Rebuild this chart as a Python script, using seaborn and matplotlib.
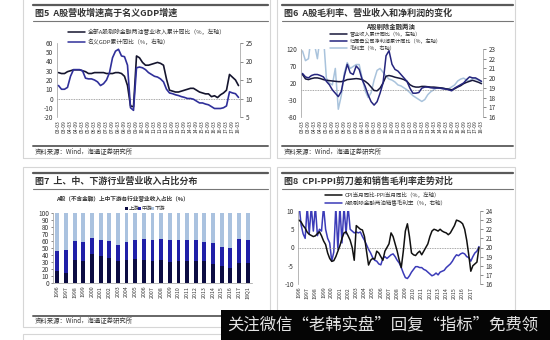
import matplotlib
matplotlib.use("Agg")
import matplotlib.pyplot as plt
import seaborn as sns
import pandas as pd
import numpy as np
from matplotlib.lines import Line2D
from matplotlib.patches import Rectangle

# ---------------- data ----------------
# 图5: quarterly 2003Q1 - 2018Q1
p1_years = list(range(2003, 2019))
p1_months = ["03", "06", "09", "12"]
p1_revenue = [28, 27, 27, 29, 30, 31, 31, 31, 30, 29, 27, 27, 28, 28, 28, 28, 27, 27, 27, 28,
              28, 27, 24, 14, -8, -9, 46, 44, 39, 36, 36, 37, 38, 39, 38, 36, 21, 9, 8, 7,
              7, 8, 9, 10, 11, 11, 9, 7, 6, 5, 5, 2, 3, 1, 4, 6, 9, 26, 23, 20, 14]
p1_gdp = [13.5, 12.5, 12.5, 13.0, 16.0, 17.8, 17.8, 17.8, 17.5, 15.5, 15.3, 15.3, 15.0, 14.5, 13.5,
          14.0, 15.0, 17.0, 21.0, 22.8, 23.3, 21.5, 21.3, 19.0, 7.5, 6.8, 18.3, 18.5, 18.3, 17.8,
          17.0, 16.5, 16.0, 15.8, 15.3, 14.5, 12.5, 11.5, 11.3, 11.0, 10.8, 10.5, 10.3, 10.0, 10.0,
          9.8, 9.3, 8.8, 8.8, 8.5, 8.3, 7.8, 7.3, 7.3, 7.3, 7.5, 8.0, 11.8, 11.5, 11.3, 10.3]

# 图6: quarterly 2003Q1 - 2018Q1
p2_revenue = [45, 32, 30, 33, 35, 35, 33, 30, 28, 27, 26, 25, 24, 24, 26, 30, 31, 32, 33, 32,
              30, 25, 18, 8, -2, -3, 5, 20, 40, 42, 40, 37, 35, 33, 30, 25, 15, 10, 8, 8,
              10, 10, 9, 8, 8, 7, 6, 5, 3, 2, 0, 3, 8, 12, 18, 22, 25, 28, 25, 22, 18]
p2_profit = [48, 38, 35, 42, 45, 45, 42, 38, 25, 15, 0, -10, -20, -5, 40, 75, 50, 45, 70, 60,
             30, 10, -15, -35, -45, -35, -10, 20, 100, 115, 75, 60, 55, 45, 35, 25, 5, -10, -10, -8,
             5, 8, 8, 6, 5, 5, 5, 3, 2, 0, -3, 5, 10, 15, 20, 30, 38, 35, 35, 30, 25]
p2_margin = [22.8, 21.8, 22.0, 24.5, 23.5, 22.0, 24.5, 24.5, 20.0, 19.5, 19.3, 21.0, 16.8, 18.2, 20.5,
             21.6, 21.0, 21.2, 21.4, 21.4, 20.0, 18.7, 18.0, 18.5, 19.8, 20.8, 21.0, 20.6, 20.2, 19.9,
             19.8, 19.6, 19.3, 19.2, 19.0, 18.8, 18.5, 18.2, 18.0, 17.8, 17.6, 17.8, 18.3, 18.6, 18.8,
             19.0, 19.0, 19.0, 18.9, 18.9, 19.1, 19.3, 19.7, 19.9, 20.0, 19.8, 19.7, 20.0, 19.9, 19.8, 19.6]

# 图7: stacked shares
p3_years = ["1996", "1997", "1998", "1999", "2000", "2001", "2002", "2003", "2004", "2005", "2006",
            "2007", "2008", "2009", "2010", "2011", "2012", "2013", "2014", "2015", "2016", "2017", "18Q1"]
p3_up = [17, 15, 33, 31, 41, 38, 36, 31, 33, 35, 33, 32, 33, 30, 31, 32, 32, 31, 27, 24, 22, 28, 29]
p3_mid = [29, 32, 27, 28, 23, 23, 24, 23, 25, 26, 30, 29, 30, 31, 31, 30, 29, 28, 30, 27, 28, 35, 33]
p3_down = [54, 53, 40, 41, 36, 39, 40, 46, 42, 39, 37, 39, 37, 39, 38, 38, 39, 41, 43, 49, 50, 37, 38]

# 图8: quarterly 1996Q1 - 2018Q1
p4_year_labels = [str(y) for y in range(1996, 2018)]
p4_cpi_ppi = [7.5, 7.0, 6.0, 5.3, 4.2, 3.6, 3.3, 3.0, 3.2, 3.8, 4.3, 3.2, 1.8, 0.8, -1.5, -3.0,
              -3.8, -3.6, -2.5, -1.0, 0.5, 2.5, 4.0, 4.3, 3.2, 2.0, 0.0, -3.5, 6.0, 5.5, 5.0, 4.8,
              3.0, -1.0, -4.8, -3.5, -3.0, -3.2, -1.0, -1.5, -2.5, -3.5, -1.0, 0.0, 1.0, 4.0, 3.0, 1.0,
              -1.0, -3.5, -5.5, -1.0, 4.5, 6.5, 3.0, -1.5, -2.0, -2.2, -1.5, -1.0, -2.0, -1.0, 0.0, 1.0,
              3.0, 4.5, 5.0, 4.8, 4.5, 5.0, 4.5, 4.2, 4.0, 3.5, 4.0, 5.0, 6.0, 7.5, 7.3, 7.0,
              6.5, 5.0, 2.0, -2.0, -6.5, -5.0, -4.5, -4.0, 0.0]
p4_margin = [24.8, 22.5, 21.5, 21.0, 24.5, 21.5, 24.5, 21.8, 24.5, 21.3, 22.0, 21.8, 24.5, 22.0, 21.0, 20.5,
             18.5, 19.5, 24.5, 19.8, 24.5, 20.5, 24.5, 21.5, 24.5, 22.0, 21.8, 21.6, 21.7, 21.6, 21.7, 21.2,
             20.8, 20.3, 19.8, 19.4, 18.9, 18.6, 18.5, 18.2, 18.1, 18.8, 19.0, 18.8, 19.0, 19.2, 19.3, 19.0,
             18.6, 18.3, 17.8, 17.2, 16.7, 16.6, 16.9, 17.3, 17.6, 17.9, 17.9, 17.8, 17.8, 17.6, 17.5, 17.3,
             17.1, 16.9, 17.0, 17.2, 17.0, 17.3, 17.4, 17.5, 17.8, 18.0, 18.2, 18.5, 18.9, 19.2, 19.1, 19.3,
             19.4, 19.3, 19.0, 18.9, 18.5, 19.0, 19.4, 19.6, 20.1]

# ---------------- figure ----------------
W, H = 550, 340
sns.set_theme(style="white")
plt.rcParams["font.family"] = ["Noto Sans CJK SC", "DejaVu Sans"]
plt.rcParams["axes.unicode_minus"] = False

fig = plt.figure(figsize=(5.5, 3.4), dpi=100)
fig.patch.set_facecolor("white")

TXT = "#333333"
GRID = "#8a8a8a"


def R(x0, y0, x1, y1):
    return [x0 / W, 1 - y1 / H, (x1 - x0) / W, (y1 - y0) / H]


def hline(x0, x1, y, color="#666666", lw=1.0, z=3):
    fig.add_artist(Line2D([x0 / W, x1 / W], [1 - y / H, 1 - y / H], transform=fig.transFigure,
                          color=color, lw=lw, zorder=z))


def text(x, y, s, size, **kw):
    kw.setdefault("color", TXT)
    kw.setdefault("va", "center")
    fig.text(x / W, 1 - y / H, s, fontsize=size, **kw)


def box(x0, y0, x1, y1):
    fig.add_artist(Rectangle((x0 / W, 1 - y1 / H), (x1 - x0) / W, (y1 - y0) / H,
                             transform=fig.transFigure, fill=False, edgecolor="#d6d6d6", lw=0.8, zorder=1))


def legend_item(x, y, color, label, size=4.0, lw=1.1, seg=17):
    fig.add_artist(Line2D([x / W, (x + seg) / W], [1 - y / H, 1 - y / H], transform=fig.transFigure,
                          color=color, lw=lw))
    text(x + seg + 3, y, label, size)


def panel_frame(x0, x1, ytop, title, ybottom_line, source_y):
    hline(x0 + 10, x1 - 2, ytop, color="#5a5a5a", lw=1.6)
    text(x0 + 12, ytop + 8, title, 6.5, fontweight="bold")
    hline(x0 + 10, x1 - 2, ytop + 16, color="#777777", lw=0.8)
    if ybottom_line is not None:
        hline(x0 + 10, x1 - 2, ybottom_line, color="#666666", lw=1.4)
        text(x0 + 12, source_y, "资料来源：Wind，海通证券研究所", 4.6)


def style_twin(ax, ax2):
    for a in (ax, ax2):
        for s in a.spines.values():
            s.set_visible(False)
        a.set_facecolor("none")
    ax.spines["left"].set_visible(True)
    ax.spines["left"].set_color("#9a9a9a")
    ax.spines["left"].set_linewidth(0.5)
    ax2.spines["right"].set_visible(True)
    ax2.spines["right"].set_color("#9a9a9a")
    ax2.spines["right"].set_linewidth(0.5)
    ax.tick_params(axis="y", labelsize=4.6, colors=TXT, length=0, pad=3)
    ax2.tick_params(axis="y", labelsize=4.6, colors=TXT, length=2, width=0.4, pad=2, direction="out")
    ax.tick_params(axis="x", labelsize=3.6, colors=TXT, length=0, pad=2, rotation=90)
    ax.set_xlabel("")
    ax.set_ylabel("")
    ax2.set_xlabel("")
    ax2.set_ylabel("")


# panel boxes
box(23, -5, 270, 158)
box(277, -5, 515, 158)
box(23, 167, 270, 327)
box(277, 167, 515, 345)
box(23, 334, 270, 360)

# ================= 图5 =================
panel_frame(23, 270, 5, "图5  A股营收增速高于名义GDP增速", 146, 152)
p1_periods = [f"{y}-{m}" for y in p1_years for m in p1_months][:len(p1_revenue)]
p1_labels = [f"{p[2:4]}-{p[5:7]}" for p in p1_periods]
df1 = pd.DataFrame({"t": np.arange(len(p1_revenue)), "revenue": p1_revenue, "gdp": p1_gdp})
ax1 = fig.add_axes(R(57, 43, 240, 117))
ax1b = ax1.twinx()
ax1.axhline(0, color=GRID, lw=0.6, ls=(0, (1, 1)), zorder=1)
sns.lineplot(data=df1, x="t", y="revenue", ax=ax1, color="#15152e", lw=1.2)
sns.lineplot(data=df1, x="t", y="gdp", ax=ax1b, color="#30309a", lw=1.2)
ax1.set_ylim(-20, 60)
ax1.set_yticks(range(-20, 61, 10))
ax1b.set_ylim(5, 25)
ax1b.set_yticks(range(5, 26, 5))
ax1.set_xlim(-0.5, len(p1_revenue) - 0.5)
ax1.set_xticks(df1["t"][::2])
ax1.set_xticklabels(p1_labels[::2])
style_twin(ax1, ax1b)
legend_item(68, 32, "#15152e", "全部A股剔除金融两油营业收入累计同比（%，左轴）", size=4.2)
legend_item(68, 42, "#30309a", "名义GDP累计同比（%，右轴）", size=4.2)

# ================= 图6 =================
panel_frame(272, 515, 5, "图6  A股毛利率、营业收入和净利润的变化", 146, 152)
df2 = pd.DataFrame({"t": np.arange(len(p2_revenue)), "revenue": p2_revenue,
                    "profit": p2_profit, "margin": p2_margin})
ax2 = fig.add_axes(R(301, 49, 483, 117))
ax2b = ax2.twinx()
ax2.axhline(0, color=GRID, lw=0.6, ls=(0, (1, 1)), zorder=1)
sns.lineplot(data=df2, x="t", y="margin", ax=ax2b, color="#a9c3dc", lw=1.1)
sns.lineplot(data=df2, x="t", y="revenue", ax=ax2, color="#17173a", lw=1.1, zorder=3)
sns.lineplot(data=df2, x="t", y="profit", ax=ax2, color="#25257e", lw=1.1, zorder=4)
ax2.set_zorder(ax2b.get_zorder() + 1)
ax2.set_ylim(-80, 120)
ax2.set_yticks([-80, -30, 20, 70, 120])
ax2b.set_ylim(16, 23)
ax2b.set_yticks(range(16, 24))
ax2.set_xlim(-0.5, len(p2_revenue) - 0.5)
ax2.set_xticks(df2["t"][::2])
ax2.set_xticklabels(p1_labels[::2])
style_twin(ax2, ax2b)
text(390, 27, "A股剔除金融两油", 4.6, fontweight="bold", ha="center")
legend_item(330, 34, "#17173a", "营业收入累计同比（%，左轴）", size=3.7)
legend_item(330, 41, "#25257e", "归属母公司净利润累计同比（%，左轴）", size=3.7)
legend_item(330, 48, "#a9c3dc", "毛利率（%，右轴）", size=3.7)

# ================= 图7 =================
panel_frame(23, 270, 173, "图7  上、中、下游行业营业收入占比分布", 316, 321)
df3 = pd.DataFrame({"year": p3_years, "up": p3_up, "mid": p3_mid, "down": p3_down})
df3["upmid"] = df3["up"] + df3["mid"]
df3["total"] = df3["upmid"] + df3["down"]
ax3 = fig.add_axes(R(53, 213, 252, 283))
for col, c in (("total", "#aac2df"), ("upmid", "#2020a8"), ("up", "#0c0c42")):
    sns.barplot(data=df3, x="year", y=col, order=p3_years, color=c, saturation=1,
                width=0.45, errorbar=None, ax=ax3, edgecolor="none")
ax3.set_ylim(0, 100)
ax3.set_yticks(range(0, 101, 10))
ax3.set_xlim(-0.5, len(p3_years) - 0.5)
for s in ("top", "right"):
    ax3.spines[s].set_visible(False)
for s in ("left", "bottom"):
    ax3.spines[s].set_color("#9a9a9a")
    ax3.spines[s].set_linewidth(0.5)
ax3.tick_params(axis="y", labelsize=4.6, colors=TXT, length=1.5, width=0.4, pad=1.5, left=True)
ax3.tick_params(axis="x", labelsize=3.8, colors=TXT, length=0, pad=2, rotation=90)
ax3.set_xlabel("")
ax3.set_ylabel("")
text(122, 199, "A股（不含金融）上中下游各行业营业收入占比（%）", 4.1, fontweight="bold", ha="center")
for lx, c, lab in ((125, "#0c0c42", "上游"), (138, "#2020a8", "中游"), (151, "#aac2df", "下游")):
    fig.add_artist(Rectangle((lx / W, 1 - 209.5 / H), 2.6 / W, 2.6 / H, transform=fig.transFigure,
                             facecolor=c, edgecolor="none"))
    text(lx + 3.5, 208, lab, 3.8)

# ================= 图8 =================
panel_frame(272, 515, 173, "图8  CPI-PPI剪刀差和销售毛利率走势对比", None, None)
df4 = pd.DataFrame({"t": np.arange(len(p4_cpi_ppi)), "gap": p4_cpi_ppi, "margin": p4_margin})
ax4 = fig.add_axes(R(298, 211, 480, 284))
ax4b = ax4.twinx()
ax4.axhline(0, color=GRID, lw=0.6, ls=(0, (1, 1)), zorder=1)
sns.lineplot(data=df4, x="t", y="margin", ax=ax4b, color="#3b3bb8", lw=1.1)
sns.lineplot(data=df4, x="t", y="gap", ax=ax4, color="#111111", lw=1.1)
ax4.set_zorder(ax4b.get_zorder() + 1)
ax4.set_ylim(-10, 10)
ax4.set_yticks([-10, -5, 0, 5, 10])
ax4b.set_ylim(16, 24)
ax4b.set_yticks(range(16, 25))
ax4.set_xlim(-0.5, len(p4_cpi_ppi) - 0.5)
ax4.set_xticks(np.arange(0, 4 * len(p4_year_labels), 4))
ax4.set_xticklabels(p4_year_labels)
style_twin(ax4, ax4b)
ax4.tick_params(axis="x", labelsize=3.8)
legend_item(325, 195, "#111111", "CPI当月同比-PPI当月同比（%，左轴）", size=4.0)
legend_item(325, 203, "#3b3bb8", "A股剔除金融两油销售毛利率（%，右轴）", size=4.0)

# ================= banner =================
fig.add_artist(Rectangle((221 / W, 0), (W - 221) / W, 30 / H, transform=fig.transFigure,
                         facecolor="#050505", edgecolor="none", zorder=10))
fig.text(383 / W, 1 - 325 / H, "关注微信“老韩实盘”回复“指标”免费领", fontsize=11.8,
         color="#e4e4e4", ha="center", va="center", zorder=11)

fig.savefig("out.png", dpi=100, facecolor="white")
